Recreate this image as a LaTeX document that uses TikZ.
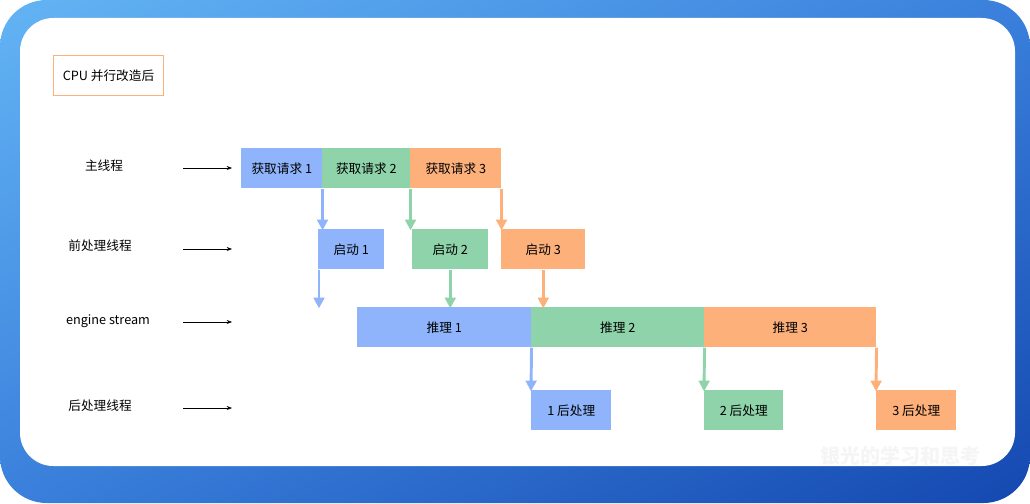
\documentclass[tikz,border=0pt]{standalone}
\usepackage{fontspec}
\setmainfont{Noto Sans CJK SC}
\usetikzlibrary{positioning,arrows.meta,shadings}
\definecolor{bblue}{HTML}{8FB4FB}
\definecolor{bgreen}{HTML}{8ED3A9}
\definecolor{borange}{HTML}{FDB07A}
\definecolor{gbgA}{HTML}{63B4F4}
\definecolor{gbgM}{HTML}{3A80DC}
\definecolor{gbgB}{HTML}{1448B0}
\tikzset{
  blk/.style={minimum height=30pt, inner sep=0pt, font=\fontsize{9.5}{11}\selectfont, anchor=north west},
  lbl/.style={font=\fontsize{9.5}{11}\selectfont},
  flow/.style={line width=2.2pt, -{Triangle[length=8pt,width=8pt]}, shorten >=-1pt},
}
\begin{document}
\begin{tikzpicture}[x=0.75pt,y=-0.75pt]
\useasboundingbox (0,0) rectangle (1030,503);
% background
\shade[rounded corners=35pt, upper left=gbgA, upper right=gbgM, lower left=gbgM, lower right=gbgB] (0,0) rectangle (1030,503);
\fill[white, rounded corners=25pt] (20,18) rectangle (1015,466);
\node[text=white!92!gray, font=\fontsize{15}{17}\selectfont\bfseries] (mark) at (900,456) {银光的学习和思考};

\node[draw=borange, line width=0.8pt, minimum width=82.5pt, minimum height=30pt, lbl, anchor=north west] (title) at (53,55) {CPU 并行改造后};

% row labels
\node[lbl] (l1) at (104,166) {主线程};
\node[lbl] (l2) at (100,246) {前处理线程};
\node[lbl] (l3) at (108,321) {engine stream};
\node[lbl] (l4) at (100,406) {后处理线程};
\coordinate (a1) at (183,168); \coordinate (b1) at (232,168);
\coordinate (a2) at (183,249); \coordinate (b2) at (232,249);
\coordinate (a3) at (183,322); \coordinate (b3) at (232,322);
\coordinate (a4) at (183,408); \coordinate (b4) at (232,408);
\foreach \i in {1,...,4} \draw[-{Stealth[length=4pt]}] (a\i) -- (b\i);

% main thread
\node[blk, fill=bblue, minimum width=60.75pt] (req1) at (241,148) {获取请求 1};
\node[blk, fill=bgreen, minimum width=66pt] (req2) at (322,148) {获取请求 2};
\node[blk, fill=borange, minimum width=68.25pt] (req3) at (410,148) {获取请求 3};
% pre-processing
\node[blk, fill=bblue, minimum width=49.5pt] (pre1) at (318,229) {启动 1};
\node[blk, fill=bgreen, minimum width=57pt] (pre2) at (412,229) {启动 2};
\node[blk, fill=borange, minimum width=63pt] (pre3) at (501,229) {启动 3};
% engine
\node[blk, fill=bblue, minimum width=130.5pt] (inf1) at (357,307) {推理 1};
\node[blk, fill=bgreen, minimum width=129.75pt] (inf2) at (531,307) {推理 2};
\node[blk, fill=borange, minimum width=129pt] (inf3) at (704,307) {推理 3};
% post-processing
\node[blk, fill=bblue, minimum width=60pt] (post1) at (531,390) {1 后处理};
\node[blk, fill=bgreen, minimum width=59.25pt] (post2) at (704,390) {2 后处理};
\node[blk, fill=borange, minimum width=60pt] (post3) at (876,390) {3 后处理};

% flows
\draw[flow, bblue] (req1.south east) -- (req1.south east |- pre1.north);
\draw[flow, bgreen] (req2.south east) -- (req2.south east |- pre2.north);
\draw[flow, borange] (req3.south east) -- (req3.south east |- pre3.north);
\draw[flow, bblue] ([xshift=0.75pt]pre1.south west) -- ([xshift=0.75pt]pre1.south west |- inf1.north);
\draw[flow, bgreen] (pre2.south) -- (pre2.south |- inf2.north);
\draw[flow, borange] (pre3.south) -- (pre3.south |- inf3.north);
\draw[flow, bblue] (inf1.south east) -- (post1.north west);
\draw[flow, bgreen] (inf2.south east) -- (post2.north west);
\draw[flow, borange] (inf3.south east) -- (post3.north west);
\end{tikzpicture}
\end{document}
